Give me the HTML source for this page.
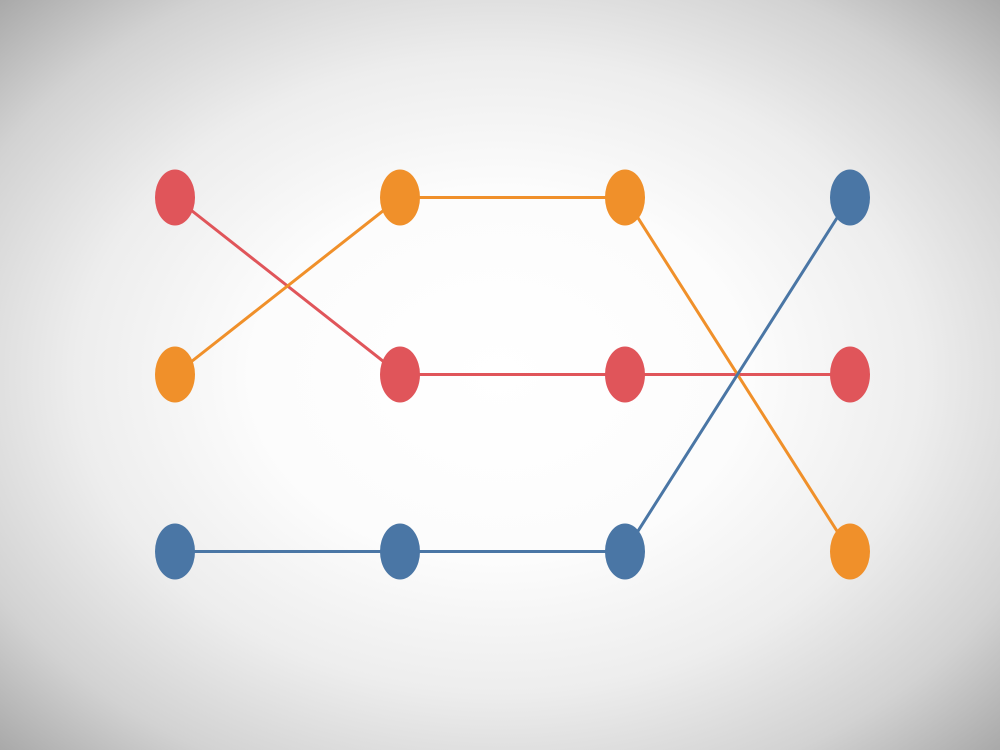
<!DOCTYPE html>
<html><head><meta charset="utf-8">
<style>
html,body{margin:0;padding:0;width:1000px;height:750px;overflow:hidden}
body{background:radial-gradient(ellipse farthest-corner at 50% 50%, #ffffff 0%, #fcfcfc 35%, #ededed 60%, #d2d2d2 82%, #a9a9a9 100%);}
svg{position:absolute;left:0;top:0}
</style></head>
<body>
<svg id="chart" width="1000" height="750"></svg>
<script>
const stages = ["s1","s2","s3","s4"];
const seriesNames = ["red","orange","blue"];
const redRanks = [1,2,2,2];
const orangeRanks = [2,1,1,3];
const blueRanks = [3,3,3,1];
const colors = ["#e0555a","#f0902a","#4a76a5"];
const allRanks = [redRanks, orangeRanks, blueRanks];

const x = i => 175 + i * 225;
const y = r => 197.5 + (r - 1) * 177;
const svg = document.getElementById('chart');
const NS = "http://www.w3.org/2000/svg";

allRanks.forEach((ranks, s) => {
  const pl = document.createElementNS(NS, 'polyline');
  pl.setAttribute('points', ranks.map((r,i)=>x(i)+','+y(r)).join(' '));
  pl.setAttribute('fill','none');
  pl.setAttribute('stroke',colors[s]);
  pl.setAttribute('stroke-width','3');
  
  
  svg.appendChild(pl);
});
allRanks.forEach((ranks, s) => {
  ranks.forEach((r, i) => {
    const e = document.createElementNS(NS, 'ellipse');
    e.setAttribute('cx', x(i)); e.setAttribute('cy', y(r));
    e.setAttribute('rx', 20); e.setAttribute('ry', 28);
    e.setAttribute('fill', colors[s]);
    
    
    svg.appendChild(e);
  });
});
</script>
</body></html>
